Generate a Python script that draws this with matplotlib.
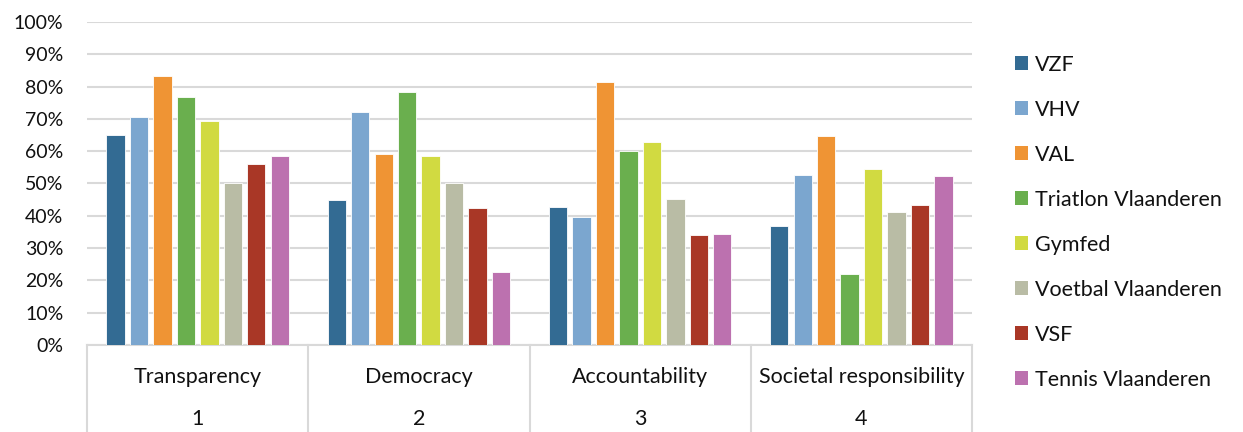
import matplotlib.pyplot as plt
import numpy as np
from matplotlib.patches import Patch

plt.rcParams['font.family'] = ['Lato', 'DejaVu Sans']

# categories and series (share of criteria met)
categories = ["Transparency", "Democracy", "Accountability", "Societal responsibility"]
numbers = ["1", "2", "3", "4"]
series = ["VZF", "VHV", "VAL", "Triatlon Vlaanderen", "Gymfed",
          "Voetbal Vlaanderen", "VSF", "Tennis Vlaanderen"]
values = {
    "VZF":                 [64.9, 44.9, 42.8, 36.9],
    "VHV":                 [70.6, 72.0, 39.5, 52.7],
    "VAL":                 [83.3, 59.0, 81.4, 64.6],
    "Triatlon Vlaanderen": [76.7, 78.2, 60.1, 22.0],
    "Gymfed":              [69.4, 58.4, 63.0, 54.5],
    "Voetbal Vlaanderen":  [50.0, 50.0, 45.1, 41.2],
    "VSF":                 [55.9, 42.3, 34.0, 43.4],
    "Tennis Vlaanderen":   [58.4, 22.7, 34.3, 52.2],
}
colors = ["#336b93", "#7ba6cf", "#ef9434", "#6aaf4e", "#d1da41",
          "#b9bca5", "#a93726", "#bc71af"]

fig = plt.figure(figsize=(12.43, 4.32), dpi=100)
ax = fig.add_axes([0.070, 0.2014, 0.712, 0.7477])

x = np.arange(len(categories))
pitch = 0.106
width = 0.083
for i, name in enumerate(series):
    ax.bar(x + (i - 3.5) * pitch, values[name], width=width, color=colors[i],
           edgecolor="white", linewidth=0.6, zorder=3)

ax.set_xlim(-0.5, len(categories) - 0.5)
ax.set_ylim(0, 100)
ax.set_yticks(np.arange(0, 101, 10))
ax.set_yticklabels([f"{v}%" for v in range(0, 101, 10)], fontsize=14)
ax.tick_params(axis="y", length=0, pad=17, labelcolor="#111111")
ax.set_xticks([])
ax.grid(axis="y", color="#d9d9d9", linewidth=1.5, zorder=0)
for s in ["top", "right", "left"]:
    ax.spines[s].set_visible(False)
ax.spines["bottom"].set_color("#d9d9d9")
ax.spines["bottom"].set_linewidth(1.5)

# multi-level category axis
trans = ax.get_xaxis_transform()
for b in np.arange(-0.5, len(categories), 1.0):
    ax.plot([b, b], [0, -0.27], transform=trans, color="#d9d9d9",
            linewidth=1.5, clip_on=False)
for i in range(len(categories)):
    ax.text(x[i], -0.099, categories[i], transform=trans, ha="center",
            va="center", fontsize=15.5, color="#111111")
    ax.text(x[i], -0.229, numbers[i], transform=trans, ha="center",
            va="center", fontsize=15.5, color="#111111")

handles = [Patch(facecolor=c, edgecolor="none") for c in colors]
fig.legend(handles, series, loc="upper left", bbox_to_anchor=(0.810, 0.893),
           frameon=False, fontsize=15.5, handlelength=0.6, handleheight=0.6,
           handletextpad=0.3, labelspacing=1.16, borderaxespad=0,
           labelcolor="#111111")

fig.savefig("out.png", dpi=100)
